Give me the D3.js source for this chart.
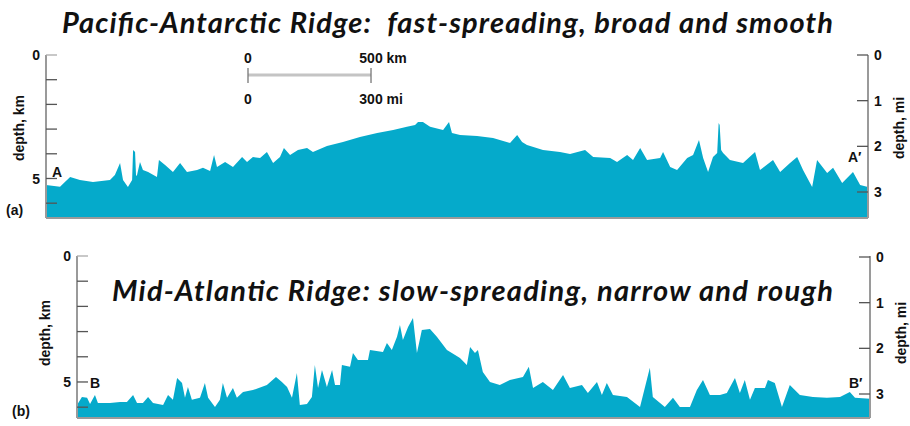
<!DOCTYPE html>
<html>
<head>
<meta charset="utf-8">
<script src="https://cdn.jsdelivr.net/npm/d3@7"></script>
<style>
  html, body { margin: 0; padding: 0; background: #fff; }
  svg { display: block; }
  .tick-label { font-family: "Liberation Sans", Arial, sans-serif; font-weight: bold; font-size: 14px; fill: #111; }
  .title { font-family: Lato, "Open Sans", sans-serif; font-weight: bold; font-style: italic; font-size: 29px; fill: #111; white-space: pre; }
</style>
</head>
<body>
<div id="chart"></div>
<script>
// Pacific-Antarctic profile: distance along profile (km) and depth (km)
const distA = [0, 57, 98, 138, 191, 260, 280, 301, 313, 333, 350, 354, 362, 366, 370, 382, 394, 415, 451, 459,
  484, 516, 545, 573, 614, 638, 667, 683, 695, 728, 760, 797, 817, 841, 870, 898, 923, 951, 967, 992,
  1024, 1061, 1085, 1142, 1207, 1276, 1346, 1411, 1467, 1500, 1512, 1532, 1561, 1614, 1638, 1650, 1683, 1752, 1817, 1886,
  1915, 1935, 1955, 2020, 2089, 2130, 2191, 2224, 2293, 2321, 2362, 2386, 2415, 2443, 2496, 2508, 2537, 2565, 2606, 2630,
  2654, 2671, 2691, 2711, 2728, 2734, 2738, 2744, 2752, 2780, 2833, 2882, 2902, 2955, 2984, 3024, 3053, 3077, 3114, 3134,
  3175, 3199, 3236, 3280, 3309, 3341];
const depthA = [5.26, 5.33, 4.94, 5.06, 5.14, 5.06, 4.86, 4.37, 5.06, 5.34, 5.06, 3.85, 3.93, 4.90, 4.86, 4.33, 4.66, 4.74, 4.94, 4.25,
  4.45, 4.74, 4.37, 4.74, 4.66, 4.57, 4.70, 4.05, 4.53, 4.33, 4.53, 4.13, 4.33, 4.13, 4.17, 3.93, 4.37, 4.13, 3.77, 4.05,
  3.85, 3.77, 3.93, 3.68, 3.52, 3.32, 3.16, 3.04, 2.91, 2.83, 2.71, 2.71, 2.91, 3.04, 2.71, 3.16, 3.24, 3.28, 3.36, 3.56,
  3.24, 3.52, 3.64, 3.85, 3.93, 4.01, 3.85, 4.13, 4.17, 4.33, 4.05, 4.25, 3.77, 4.25, 4.17, 3.93, 4.53, 4.66, 4.17, 4.05,
  3.44, 4.17, 4.74, 4.13, 3.97, 2.75, 2.83, 3.85, 3.97, 4.25, 4.37, 3.93, 4.66, 4.25, 4.74, 4.37, 4.13, 4.66, 5.34, 4.25,
  4.78, 4.57, 5.18, 4.74, 5.26, 5.34];

// Mid-Atlantic profile
const distB = [0, 20, 41, 53, 73, 85, 134, 175, 203, 228, 244, 268, 289, 309, 350, 370, 390, 407, 427, 439,
  451, 467, 500, 520, 533, 561, 581, 593, 610, 634, 650, 675, 715, 772, 809, 833, 854, 874, 894, 906,
  935, 955, 967, 980, 996, 1016, 1037, 1049, 1069, 1077, 1110, 1122, 1142, 1183, 1191, 1244, 1260, 1280, 1301, 1313,
  1325, 1346, 1366, 1382, 1402, 1435, 1463, 1504, 1524, 1557, 1585, 1598, 1618, 1630, 1650, 1679, 1719, 1760, 1813, 1837,
  1854, 1894, 1935, 1976, 2004, 2053, 2077, 2114, 2134, 2154, 2179, 2236, 2289, 2329, 2341, 2390, 2423, 2451, 2492, 2520,
  2545, 2573, 2614, 2642, 2675, 2695, 2715, 2736, 2756, 2797, 2809, 2837, 2866, 2898, 2939, 2992, 3049, 3102, 3142, 3163,
  3224];
const depthB = [5.91, 5.60, 5.63, 5.87, 5.52, 5.83, 5.83, 5.79, 5.79, 5.52, 5.83, 5.83, 5.60, 5.83, 5.91, 5.52, 5.71, 4.84, 5.04, 5.63,
  5.20, 5.71, 5.63, 5.04, 5.63, 5.99, 5.71, 5.04, 5.63, 5.24, 5.63, 5.40, 5.32, 5.12, 4.80, 5.00, 5.20, 5.63, 4.64, 5.91,
  5.87, 5.60, 4.33, 5.24, 4.52, 5.20, 4.52, 5.12, 5.12, 4.33, 4.40, 3.85, 4.13, 4.13, 3.73, 3.81, 3.45, 3.73, 3.21, 2.74,
  3.33, 2.82, 2.46, 3.85, 2.94, 2.90, 3.21, 3.73, 3.85, 4.05, 4.33, 3.61, 3.85, 3.73, 4.60, 5.00, 5.12, 4.92, 4.80, 4.40,
  5.24, 5.00, 5.32, 4.72, 5.24, 5.12, 5.44, 5.00, 5.52, 5.04, 5.52, 5.60, 5.99, 4.44, 5.60, 5.99, 5.63, 5.99, 5.99, 5.32,
  4.92, 5.52, 5.52, 5.44, 4.84, 5.44, 4.92, 5.71, 5.24, 5.24, 4.92, 5.04, 5.99, 5.12, 5.52, 5.60, 5.63, 5.60, 5.40, 5.63,
  5.67];

const kmTicks = [0, 1, 2, 3, 4, 5, 6];
const kmLabels = [0, 5];
const miTicks = [0, 1, 2, 3];
const titles = ['Pacific-Antarctic Ridge:  fast-spreading, broad and smooth', 'Mid-Atlantic Ridge: slow-spreading, narrow and rough'];

const W = 910, H = 426;
const fillColor = '#05aacb';

const svg = d3.select('#chart').append('svg')
  .attr('width', W)
  .attr('height', H);

function drawPanel(p) {
  const x = d3.scaleLinear().domain([0, d3.max(p.dist)]).range([p.left, p.right]);
  const y = d3.scaleLinear().domain([0, p.maxKm]).range([p.top, p.bottom]);
  const yMi = d3.scaleLinear().domain([0, 3]).range([p.top + p.miOffset, p.mi3]);

  const pts = p.dist.map((d, i) => [d, p.depth[i]]);
  const area = d3.area()
    .x(d => x(d[0]))
    .y0(p.bottom)
    .y1(d => y(d[1]));

  svg.append('path')
    .datum(pts)
    .attr('fill', fillColor)
    .attr('d', area);

  // baseline
  svg.append('line')
    .attr('x1', p.left).attr('x2', p.right)
    .attr('y1', p.bottom).attr('y2', p.bottom)
    .attr('stroke', '#9a9a9a').attr('stroke-width', 2);

  // left km axis, ticks pointing inward
  const gl = svg.append('g').attr('transform', `translate(${p.left},0)`);
  gl.append('line').attr('y1', p.top).attr('y2', p.bottom).attr('stroke', '#9a9a9a').attr('stroke-width', 2);
  gl.selectAll('.t').data(kmTicks).enter().append('line')
    .attr('x1', 0).attr('x2', 11)
    .attr('y1', d => y(d)).attr('y2', d => y(d))
    .attr('stroke', d => d === 0 ? '#aaa' : '#555').attr('stroke-width', 1.3);
  gl.selectAll('.l').data(kmLabels).enter().append('text')
    .attr('class', 'tick-label')
    .attr('x', -6).attr('y', d => y(d)).attr('dy', '0.36em')
    .attr('text-anchor', 'end')
    .text(d => d);

  // right mile axis
  const gr = svg.append('g').attr('transform', `translate(${p.right},0)`);
  gr.append('line').attr('y1', p.top).attr('y2', p.bottom).attr('stroke', '#9a9a9a').attr('stroke-width', 2);
  gr.selectAll('.t').data(miTicks).enter().append('line')
    .attr('x1', -11).attr('x2', 0)
    .attr('y1', d => yMi(d)).attr('y2', d => yMi(d))
    .attr('stroke', '#555').attr('stroke-width', 1.3);
  gr.selectAll('.l').data(miTicks).enter().append('text')
    .attr('class', 'tick-label')
    .attr('x', 6).attr('y', d => yMi(d)).attr('dy', '0.36em')
    .text(d => d);

  // axis titles
  svg.append('text').attr('class', 'tick-label')
    .attr('transform', `translate(${p.kmTitleX},${p.axisTitleY}) rotate(-90)`)
    .attr('text-anchor', 'middle').attr('dy', '0.36em')
    .text('depth, km');
  svg.append('text').attr('class', 'tick-label')
    .attr('transform', `translate(${p.right + 31},${p.axisTitleY}) rotate(-90)`)
    .attr('text-anchor', 'middle').attr('dy', '0.36em')
    .text('depth, mi');

  // end point letters and panel tag
  svg.append('text').attr('class', 'tick-label').attr('font-size', 15)
    .attr('x', p.startLabel[0]).attr('y', p.startLabel[1]).text(p.letter);
  svg.append('text').attr('class', 'tick-label').attr('font-size', 15)
    .attr('x', p.endLabel[0]).attr('y', p.endLabel[1]).text(p.letter + '\u2032');
  svg.append('text').attr('class', 'tick-label').attr('font-size', 13)
    .attr('x', p.tag[0]).attr('y', p.tag[1]).text(p.tagText);

  svg.append('text').attr('class', 'title')
    .attr('x', p.titleX).attr('y', p.titleY)
    .attr('textLength', p.titleW)
    .text(p.title);

  return x;
}

const xA = drawPanel({
  dist: distA, depth: depthA, left: 46, right: 868, top: 55, bottom: 218, maxKm: 6.6,
  miOffset: 0, mi3: 192, kmTitleX: 19, axisTitleY: 128,
  letter: 'A', startLabel: [52, 177], endLabel: [848, 162], tag: [6, 215], tagText: '(a)',
  title: titles[0], titleX: 62, titleW: 771, titleY: 33
});

drawPanel({
  dist: distB, depth: depthB, left: 77, right: 870, top: 256, bottom: 418, maxKm: 6.43,
  miOffset: 1, mi3: 394, kmTitleX: 45, axisTitleY: 333,
  letter: 'B', startLabel: [90, 388], endLabel: [849, 388], tag: [12, 416], tagText: '(b)',
  title: titles[1], titleX: 112, titleW: 721, titleY: 301
});

// scale bar: 500 km on the profile scale
const barX0 = 248, barY = 75;
const barX1 = barX0 + (xA(500) - xA(0));
const sb = svg.append('g');
sb.append('line').attr('x1', barX0).attr('x2', barX1).attr('y1', barY).attr('y2', barY)
  .attr('stroke', '#c4c4c4').attr('stroke-width', 3);
[barX0, barX1].forEach(bx => {
  sb.append('line').attr('x1', bx).attr('x2', bx).attr('y1', barY - 7).attr('y2', barY + 8)
    .attr('stroke', '#777').attr('stroke-width', 1.3);
});
sb.append('text').attr('class', 'tick-label').attr('x', barX0).attr('y', 63).attr('text-anchor', 'middle').text('0');
sb.append('text').attr('class', 'tick-label').attr('x', barX0).attr('y', 104).attr('text-anchor', 'middle').text('0');
[['500', ' km', 63], ['300', ' mi', 104]].forEach(([num, unit, ty]) => {
  const t = sb.append('text').attr('class', 'tick-label').attr('y', ty).attr('x', barX1).text(num + unit);
  const probe = sb.append('text').attr('class', 'tick-label').text(num);
  const half = probe.node().getComputedTextLength() / 2;
  probe.remove();
  t.attr('x', barX1 - half);
});
</script>
</body>
</html>
